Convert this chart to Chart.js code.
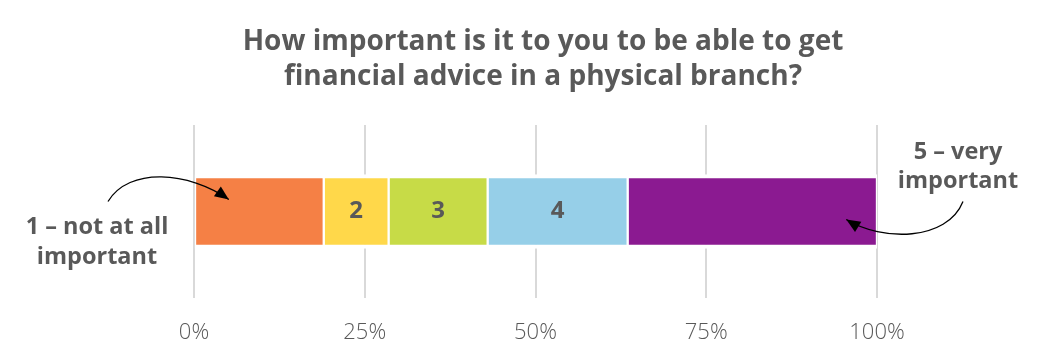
<!DOCTYPE html>
<html>
<head>
<meta charset="utf-8">
<script src="https://cdn.jsdelivr.net/npm/chart.js@4/dist/chart.umd.min.js"></script>
<style>
  html, body { margin: 0; padding: 0; background: #fff; }
  #wrap { width: 1055px; height: 356px; }
</style>
</head>
<body>
<div id="wrap"><canvas id="chart"></canvas></div>
<script>
// data
const ratings = ['1', '2', '3', '4', '5'];
const shares = [19, 9.5, 14.5, 20.5, 36.5];       // % of answers, stacked to 100
const segmentLabels = ['', '2', '3', '4', ''];    // text printed inside the bar
const barColors = ['#F58045', '#FFD84A', '#C7DB47', '#96CFE8', '#8B1A91'];
const tickValues = [0, 25, 50, 75, 100];
const titleLines = ['How important is it to you to be able to get', 'financial advice in a physical branch?'];
const leftNote = ['1 – not at all', 'important'];
const rightNote = ['5 – very', 'important'];

const FONT = "'Open Sans', 'Noto Sans', sans-serif";
const GREY = '#595959';

// arrow with filled head
function drawArrow(ctx, p0, c1, c2, p1) {
    ctx.save();
    ctx.strokeStyle = '#000';
    ctx.lineWidth = 1.3;
    ctx.beginPath();
    ctx.moveTo(p0.x, p0.y);
    ctx.bezierCurveTo(c1.x, c1.y, c2.x, c2.y, p1.x, p1.y);
    ctx.stroke();
    const ang = Math.atan2(p1.y - c2.y, p1.x - c2.x);
    const len = 14, half = 6;
    ctx.fillStyle = '#000';
    ctx.beginPath();
    ctx.moveTo(p1.x, p1.y);
    ctx.lineTo(p1.x - len * Math.cos(ang) + half * Math.sin(ang), p1.y - len * Math.sin(ang) - half * Math.cos(ang));
    ctx.lineTo(p1.x - len * Math.cos(ang) - half * Math.sin(ang), p1.y - len * Math.sin(ang) + half * Math.cos(ang));
    ctx.closePath();
    ctx.fill();
    ctx.restore();
}

// numbers inside the segments + the two notes with arrows
const notesPlugin = {
    id: 'notes',
    afterDatasetsDraw(chart) {
        const ctx = chart.ctx;
        const x = chart.scales.x;
        const area = chart.chartArea;

        ctx.save();
        ctx.fillStyle = GREY;
        ctx.font = 'bold 24px ' + FONT;
        ctx.textAlign = 'center';
        ctx.textBaseline = 'middle';
        chart.data.datasets.forEach((ds, i) => {
            const bar = chart.getDatasetMeta(i).data[0];
            if (segmentLabels[i]) {
                ctx.fillText(segmentLabels[i], (bar.x + bar.base) / 2, bar.y);
            }
        });

        const bar0 = chart.getDatasetMeta(0).data[0];
        const midY = bar0.y;

        ctx.font = 'bold 23.5px ' + FONT;
        // left note
        const lx = area.left - 97;
        ctx.fillText(leftNote[0], lx, midY + 16);
        ctx.fillText(leftNote[1], lx, midY + 46);

        // right note
        const rx = area.right + 81;
        ctx.fillText(rightNote[0], rx, midY - 59);
        ctx.fillText(rightNote[1], rx, midY - 30);
        ctx.restore();

        drawArrow(ctx,
            { x: area.left - 86, y: midY - 10 },
            { x: area.left - 65, y: midY - 45 },
            { x: area.left - 5, y: midY - 40 },
            { x: x.getPixelForValue(5.1), y: midY - 12 });

        drawArrow(ctx,
            { x: area.right + 86, y: midY - 10 },
            { x: area.right + 70, y: midY + 30 },
            { x: area.right + 5, y: midY + 30 },
            { x: x.getPixelForValue(95.5), y: midY + 8 });
    }
};

const datasets = ratings.map((r, i) => ({
    label: r,
    data: [shares[i]],
    backgroundColor: barColors[i],
    borderColor: '#ffffff',
    borderWidth: { top: 4, bottom: 4, left: 1.5, right: 1.5 },
    borderSkipped: false,
    barThickness: 74
}));

new Chart(document.getElementById('chart'), {
    type: 'bar',
    data: { labels: [''], datasets: datasets },
    plugins: [notesPlugin],
    options: {
        indexAxis: 'y',
        responsive: true,
        maintainAspectRatio: false,
        animation: false,
        layout: { padding: { left: 194, right: 163, top: 0, bottom: 0 } },
        plugins: {
            legend: { display: false },
            tooltip: { enabled: false },
            title: {
                display: true,
                text: titleLines,
                color: GREY,
                font: { family: FONT, size: 28, weight: 'bold', lineHeight: 1.25 },
                padding: { top: 25, bottom: 30 }
            }
        },
        scales: {
            x: {
                stacked: true,
                min: 0,
                max: 100,
                afterBuildTicks(axis) {
                    axis.ticks = tickValues.map(v => ({ value: v }));
                },
                afterFit(axis) { axis.height = 58; },
                grid: { color: '#d9d9d9', lineWidth: 2, drawTicks: false },
                border: { display: false },
                ticks: {
                    color: GREY,
                    font: { family: FONT, size: 22, weight: 300 },
                    padding: 22,
                    maxRotation: 0,
                    callback: v => v + '%'
                }
            },
            y: {
                stacked: true,
                position: 'right',
                grid: { display: false },
                border: { display: false },
                ticks: { display: false },
                afterFit(axis) { axis.width = 15; }
            }
        }
    }
});
</script>
</body>
</html>
